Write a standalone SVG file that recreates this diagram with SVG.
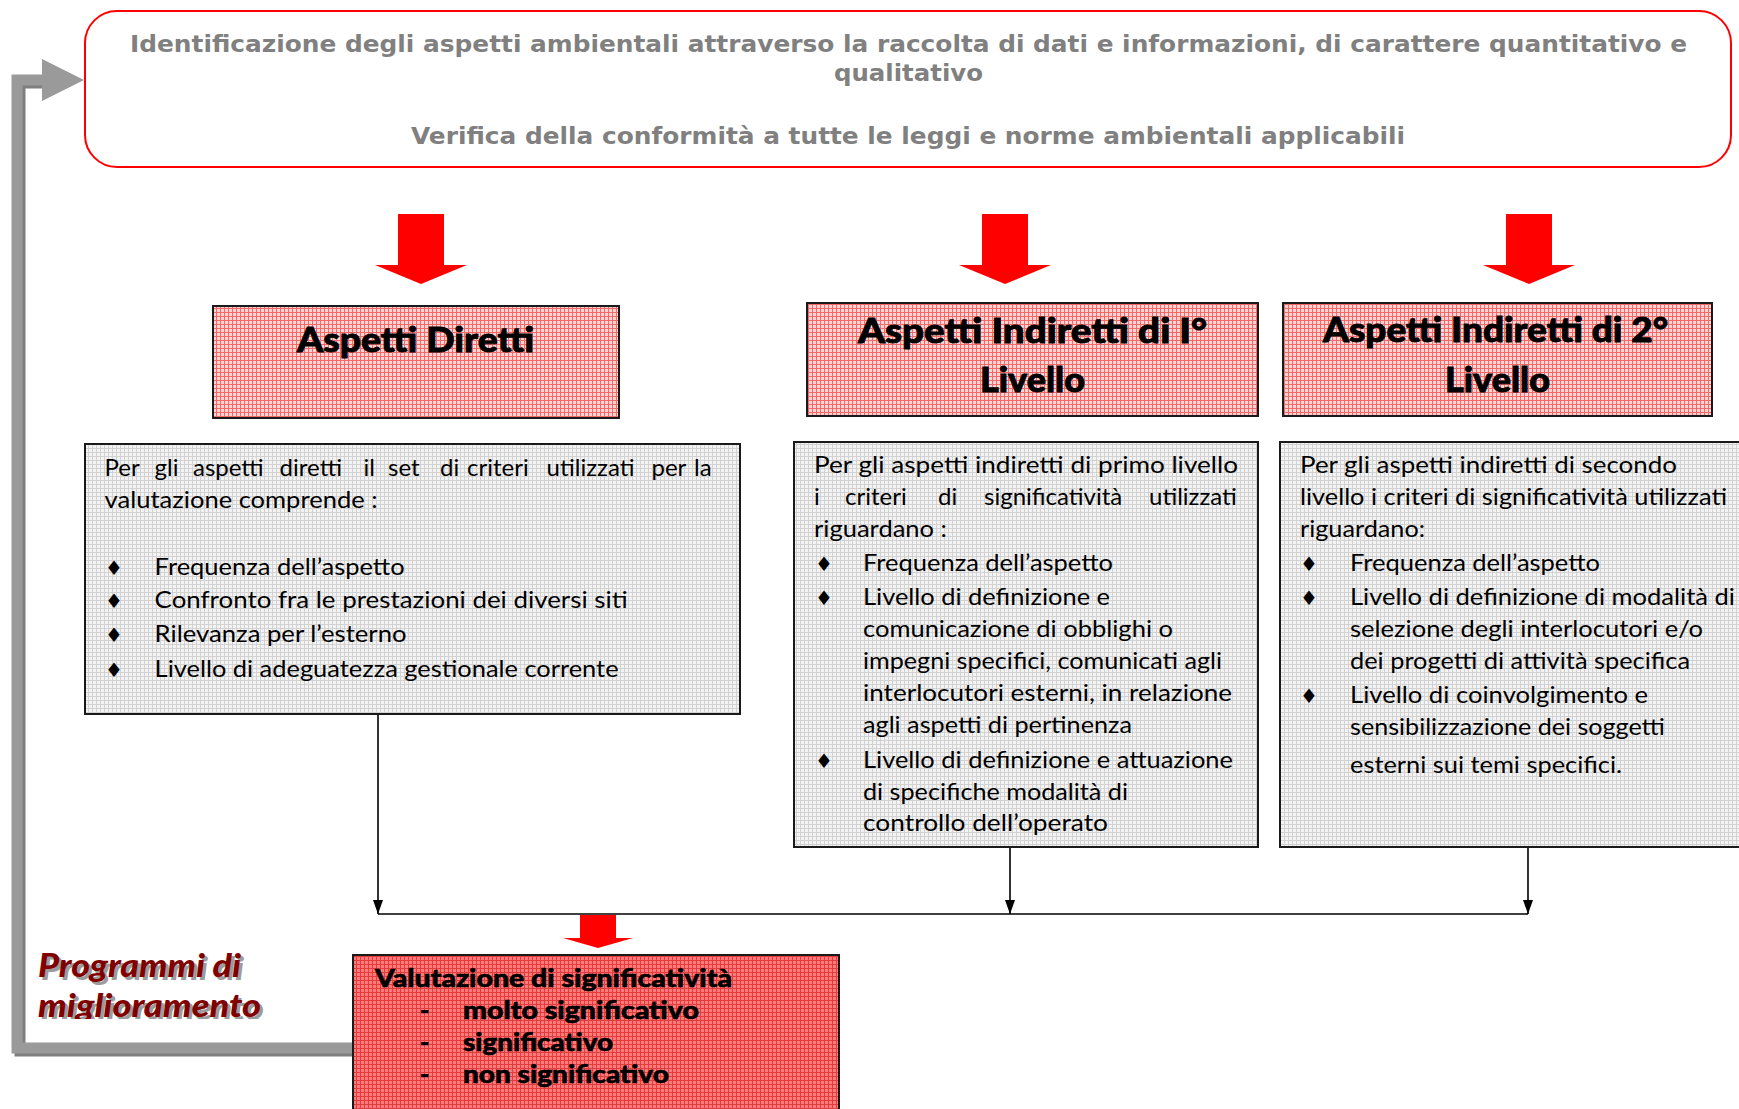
<svg xmlns="http://www.w3.org/2000/svg" width="1739" height="1109" viewBox="0 0 1739 1109">
<style>
.hd{font-family:"DejaVu Sans",Verdana,sans-serif;font-weight:bold;font-size:23px;fill:#808080;}
.ttl{font-family:Lato,"Open Sans",sans-serif;font-weight:900;font-size:35px;fill:#000;stroke:#000;stroke-width:0.9;}
.bd{font-family:Lato,"Open Sans",sans-serif;font-size:24px;fill:#000;}
.bl{font-family:"DejaVu Sans",sans-serif;font-size:20px;fill:#000;text-anchor:middle;}
.val{font-family:Lato,"Open Sans",sans-serif;font-weight:900;font-size:25px;fill:#000;stroke:#000;stroke-width:0.6;}
.prg{font-family:Lato,"Open Sans",sans-serif;font-weight:900;font-style:italic;font-size:32px;}
.tbox{fill:url(#pinkGrid);stroke:#1a1a1a;stroke-width:2;}
.gbox{fill:url(#grayGrid);stroke:#1a1a1a;stroke-width:2;}
.conn{stroke:#000;stroke-width:1.6;fill:none;}
.red{fill:#ff0000;}
</style>
<defs>
<pattern id="pinkGrid" width="4" height="4" patternUnits="userSpaceOnUse">
<rect width="4" height="4" fill="#fcd4d4"/><rect width="4" height="1" fill="#f06a6a"/><rect width="1" height="4" fill="#f06a6a"/>
</pattern>
<pattern id="grayGrid" width="4" height="4" patternUnits="userSpaceOnUse">
<rect width="4" height="4" fill="#f3f3f3"/><rect width="4" height="1" fill="#d2d2d2"/><rect width="1" height="4" fill="#d2d2d2"/>
</pattern>
<pattern id="redGrid" width="4" height="4" patternUnits="userSpaceOnUse">
<rect width="4" height="4" fill="#ff7a7a"/><rect width="4" height="1" fill="#e23c3c"/><rect width="1" height="4" fill="#e23c3c"/>
</pattern>
<marker id="arr" viewBox="0 0 14 10" refX="14" refY="5" markerWidth="14" markerHeight="10" markerUnits="userSpaceOnUse" orient="auto">
<path d="M0,0 L14,5 L0,10 z" fill="#000"/>
</marker>
<clipPath id="prgClip"><rect x="0" y="930" width="340" height="89"/></clipPath>
</defs>

<g id="connectors">
<path d="M354 1051 H20 V83 H45" stroke="#7f7f7f" stroke-width="11" fill="none"/>
<path d="M354 1048 H17 V80 H45" stroke="#9a9a9a" stroke-width="11" fill="none"/>
<polygon points="42,59 84,80 42,101" fill="#9a9a9a"/>
<polygon class="red" points="398,214 444,214 444,265 467,265 421,284 375,265 398,265"/>
<polygon class="red" points="982,214 1028,214 1028,265 1051,265 1005,284 959,265 982,265"/>
<polygon class="red" points="1506,214 1552,214 1552,265 1575,265 1529,284 1483,265 1506,265"/>
<line class="conn" x1="378" y1="714" x2="378" y2="914" marker-end="url(#arr)"/>
<line class="conn" x1="1010" y1="847" x2="1010" y2="914" marker-end="url(#arr)"/>
<line class="conn" x1="1528" y1="847" x2="1528" y2="914" marker-end="url(#arr)"/>
<line class="conn" x1="378" y1="914" x2="1528" y2="914" stroke-width="2"/>
<polygon class="red" points="580,915 616,915 616,938 633,938 598,948 563,938 580,938"/>
</g>

<g id="node-identificazione">
<rect x="85" y="11" width="1646" height="156" rx="32" ry="32" fill="#fff" stroke="#ff0000" stroke-width="2"/>
<text class="hd" x="130" y="52" textLength="1557" lengthAdjust="spacingAndGlyphs">Identificazione degli aspetti ambientali attraverso la raccolta di dati e informazioni, di carattere quantitativo e</text>
<text class="hd" x="834" y="81" textLength="149" lengthAdjust="spacingAndGlyphs">qualitativo</text>
<text class="hd" x="411" y="144" textLength="994" lengthAdjust="spacingAndGlyphs">Verifica della conformità a tutte le leggi e norme ambientali applicabili</text>
</g>

<g id="node-aspetti-diretti">
<rect class="tbox" x="213" y="306" width="406" height="112"/>
<text class="ttl" x="297" y="352" textLength="237" lengthAdjust="spacingAndGlyphs">Aspetti Diretti</text>
</g>

<g id="node-aspetti-indiretti-1">
<rect class="tbox" x="807" y="303" width="451" height="113"/>
<text class="ttl" x="858" y="343" textLength="349" lengthAdjust="spacingAndGlyphs">Aspetti Indiretti di I°</text>
<text class="ttl" x="980" y="392" textLength="105" lengthAdjust="spacingAndGlyphs">Livello</text>
</g>

<g id="node-aspetti-indiretti-2">
<rect class="tbox" x="1283" y="303" width="429" height="113"/>
<text class="ttl" x="1323" y="342" textLength="345" lengthAdjust="spacingAndGlyphs">Aspetti Indiretti di 2°</text>
<text class="ttl" x="1445" y="392" textLength="105" lengthAdjust="spacingAndGlyphs">Livello</text>
</g>

<g id="node-criteri-diretti">
<rect class="gbox" x="85" y="444" width="655" height="270"/>
<text class="bd" y="476"><tspan x="104.6">Per</tspan><tspan x="154.6">gli</tspan><tspan x="193">aspetti</tspan><tspan x="279.6">diretti</tspan><tspan x="363.6">il</tspan><tspan x="388">set</tspan><tspan x="440">di</tspan><tspan x="467">criteri</tspan><tspan x="546.6">utilizzati</tspan><tspan x="651.5">per</tspan><tspan x="694">la</tspan></text>
<text class="bd" x="104.6" y="508" textLength="273" lengthAdjust="spacingAndGlyphs">valutazione comprende :</text>
<text class="bl" x="114" y="575">♦</text>
<text class="bl" x="114" y="608">♦</text>
<text class="bl" x="114" y="642">♦</text>
<text class="bl" x="114" y="677">♦</text>
<text class="bd" x="154.6" y="575" textLength="250" lengthAdjust="spacingAndGlyphs">Frequenza dell’aspetto</text>
<text class="bd" x="154.6" y="608" textLength="473" lengthAdjust="spacingAndGlyphs">Confronto fra le prestazioni dei diversi siti</text>
<text class="bd" x="154.6" y="642" textLength="252" lengthAdjust="spacingAndGlyphs">Rilevanza per l’esterno</text>
<text class="bd" x="154.6" y="677" textLength="464" lengthAdjust="spacingAndGlyphs">Livello di adeguatezza gestionale corrente</text>
</g>

<g id="node-criteri-indiretti-1">
<rect class="gbox" x="794" y="442" width="464" height="405"/>
<text class="bd" x="814" y="473" textLength="424" lengthAdjust="spacingAndGlyphs">Per gli aspetti indiretti di primo livello</text>
<text class="bd" y="505"><tspan x="814">i</tspan><tspan x="845">criteri</tspan><tspan x="938">di</tspan><tspan x="984">significatività</tspan><tspan x="1149">utilizzati</tspan></text>
<text class="bd" x="814" y="537" textLength="133" lengthAdjust="spacingAndGlyphs">riguardano :</text>
<text class="bl" x="824" y="571">♦</text>
<text class="bl" x="824" y="605">♦</text>
<text class="bl" x="824" y="768">♦</text>
<text class="bd" x="863" y="571" textLength="250" lengthAdjust="spacingAndGlyphs">Frequenza dell’aspetto</text>
<text class="bd" x="863" y="605" textLength="247" lengthAdjust="spacingAndGlyphs">Livello di definizione e</text>
<text class="bd" x="863" y="637" textLength="310" lengthAdjust="spacingAndGlyphs">comunicazione di obblighi o</text>
<text class="bd" x="863" y="669" textLength="359" lengthAdjust="spacingAndGlyphs">impegni specifici, comunicati agli</text>
<text class="bd" x="863" y="701" textLength="369" lengthAdjust="spacingAndGlyphs">interlocutori esterni, in relazione</text>
<text class="bd" x="863" y="733" textLength="269" lengthAdjust="spacingAndGlyphs">agli aspetti di pertinenza</text>
<text class="bd" x="863" y="768" textLength="370" lengthAdjust="spacingAndGlyphs">Livello di definizione e attuazione</text>
<text class="bd" x="863" y="800" textLength="265" lengthAdjust="spacingAndGlyphs">di specifiche modalità di</text>
<text class="bd" x="863" y="831" textLength="245" lengthAdjust="spacingAndGlyphs">controllo dell’operato</text>
</g>

<g id="node-criteri-indiretti-2">
<rect class="gbox" x="1280" y="442" width="470" height="405"/>
<text class="bd" x="1300" y="473" textLength="377" lengthAdjust="spacingAndGlyphs">Per gli aspetti indiretti di secondo</text>
<text class="bd" x="1300" y="505" textLength="427" lengthAdjust="spacingAndGlyphs">livello i criteri di significatività utilizzati</text>
<text class="bd" x="1300" y="537" textLength="125" lengthAdjust="spacingAndGlyphs">riguardano:</text>
<text class="bl" x="1309" y="571">♦</text>
<text class="bl" x="1309" y="605">♦</text>
<text class="bl" x="1309" y="703">♦</text>
<text class="bd" x="1350" y="571" textLength="250" lengthAdjust="spacingAndGlyphs">Frequenza dell’aspetto</text>
<text class="bd" x="1350" y="605" textLength="385" lengthAdjust="spacingAndGlyphs">Livello di definizione di modalità di</text>
<text class="bd" x="1350" y="637" textLength="353" lengthAdjust="spacingAndGlyphs">selezione degli interlocutori e/o</text>
<text class="bd" x="1350" y="669" textLength="340" lengthAdjust="spacingAndGlyphs">dei progetti di attività specifica</text>
<text class="bd" x="1350" y="703" textLength="298" lengthAdjust="spacingAndGlyphs">Livello di coinvolgimento e</text>
<text class="bd" x="1350" y="735" textLength="315" lengthAdjust="spacingAndGlyphs">sensibilizzazione dei soggetti</text>
<text class="bd" x="1350" y="773" textLength="272" lengthAdjust="spacingAndGlyphs">esterni sui temi specifici.</text>
</g>

<g id="node-valutazione">
<rect x="353" y="955" width="486" height="170" fill="url(#redGrid)" stroke="#1a1a1a" stroke-width="2"/>
<text class="val" x="375" y="987" textLength="357" lengthAdjust="spacingAndGlyphs">Valutazione di significatività</text>
<text class="val" x="420" y="1019">-</text>
<text class="val" x="420" y="1051">-</text>
<text class="val" x="420" y="1083">-</text>
<text class="val" x="463" y="1019" textLength="236" lengthAdjust="spacingAndGlyphs">molto significativo</text>
<text class="val" x="463" y="1051" textLength="150" lengthAdjust="spacingAndGlyphs">significativo</text>
<text class="val" x="463" y="1083" textLength="206" lengthAdjust="spacingAndGlyphs">non significativo</text>
</g>

<g id="node-programmi" clip-path="url(#prgClip)">
<text class="prg" x="41" y="980" fill="#9c9c9c" textLength="203" lengthAdjust="spacingAndGlyphs">Programmi di</text>
<text class="prg" x="41" y="1020" fill="#9c9c9c" textLength="223" lengthAdjust="spacingAndGlyphs">miglioramento</text>
<text class="prg" x="38" y="977" fill="#800000" textLength="203" lengthAdjust="spacingAndGlyphs">Programmi di</text>
<text class="prg" x="38" y="1017" fill="#800000" textLength="223" lengthAdjust="spacingAndGlyphs">miglioramento</text>
</g>
</svg>
